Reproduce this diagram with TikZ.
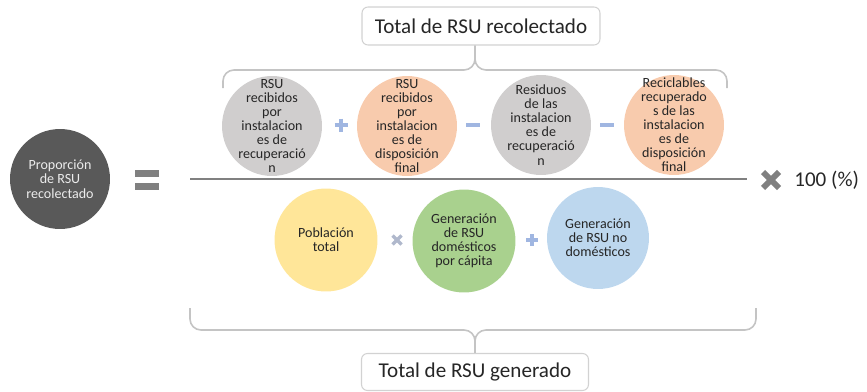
\documentclass[tikz,border=0pt]{standalone}
\usepackage{fontspec}
\setmainfont{Carlito}
\usetikzlibrary{positioning}
\definecolor{gr1}{RGB}{89, 89, 89}
\definecolor{gr2}{RGB}{208, 206, 206}
\definecolor{pe1}{RGB}{248, 203, 173}
\definecolor{am1}{RGB}{255, 230, 153}
\definecolor{ve1}{RGB}{169, 209, 142}
\definecolor{az1}{RGB}{189, 215, 238}
\definecolor{op1}{RGB}{160, 182, 225}
\definecolor{op2}{RGB}{176, 184, 204}
\definecolor{li1}{RGB}{128, 128, 128}
\definecolor{ll1}{RGB}{196, 196, 196}
\definecolor{bo1}{RGB}{210, 210, 210}
\definecolor{tx1}{RGB}{38, 38, 38}

\begin{document}
\begin{tikzpicture}[x=0.02cm, y=-0.02cm]
    \tikzstyle{bola}=[circle, minimum size=2cm, inner sep=0pt]
    \tikzstyle{txt}=[align=center, font=\fontsize{8}{8}\selectfont, text=tx1, inner sep=0pt]
    \tikzstyle{caja}=[rectangle, rounded corners=0.12cm, draw=bo1, line width=0.6pt,
    fill=white, font=\fontsize{12}{14}\selectfont, text=tx1]
    \tikzstyle{llave}=[line width=0.9pt, color=ll1, rounded corners=0.22cm]
    \tikzstyle{signo}=[line width=2.2pt, color=op1]

    \useasboundingbox (0, 0) rectangle (867, 392);

    % Left circle
    \node [bola, fill=gr1] (prop) at (60, 179) {};
    \node [txt, text=white!85!gray, font=\fontsize{8}{8.3}\selectfont] (prop-t) at (prop) {Proporción\\de RSU\\recolectado};

    % Equals sign
    \fill [li1] (135, 170) rectangle (159, 177);
    \fill [li1] (135, 183) rectangle (159, 190);

    % Fraction line
    \draw [line width=1.7pt, color=li1] (190, 179) -- (747, 179);

    % Top box
    \node [caja, minimum width=4.76cm, minimum height=0.76cm] (totrec) at (481, 26) {Total de RSU recolectado};

    % Top brace
    \coordinate (tl) at (223, 88);
    \coordinate (tr) at (727, 88);
    \coordinate (tc) at (475, 70);
    \draw [llave] (tl) |- (tc) -- (tc |- totrec.south);
    \draw [llave] (tr) |- (tc) -- (tc |- totrec.south);

    % Numerator circles
    \node [bola, fill=gr2] (recup) at (272, 126) {};
    \node [txt] (recup-t) at (recup) {RSU\\recibidos\\por\\instalacion\\es de\\recuperació\\n};
    \node [bola, fill=pe1] (dispo) at (407, 126) {};
    \node [txt] (dispo-t) at (dispo) {RSU\\recibidos\\por\\instalacion\\es de\\disposición\\final};
    \node [bola, fill=gr2] (resrec) at (541, 125) {};
    \node [txt] (resrec-t) at (resrec) {Residuos\\de las\\instalacion\\es de\\recuperació\\n};
    \node [bola, fill=pe1] (recdis) at (674, 125) {};
    \node [txt] (recdis-t) at (recdis) {Reciclables\\recuperado\\s de las\\instalacion\\es de\\disposición\\final};

    % Numerator signs
    \draw [signo] (334.5, 125) -- (347.5, 125);
    \draw [signo] (341, 118.5) -- (341, 131.5);
    \draw [signo] (466, 125) -- (480, 125);
    \draw [signo] (600, 125) -- (614, 125);

    % Denominator circles
    \node [bola, fill=am1, minimum size=2.06cm] (pobl) at (326, 240) {};
    \node [txt] (pobl-t) at (pobl) {Población\\total};
    \node [bola, fill=ve1, minimum size=2.06cm] (gendom) at (464, 241) {};
    \node [txt] (gendom-t) at (gendom) {Generación\\de RSU\\domésticos\\por cápita};
    \node [bola, fill=az1, minimum size=2.04cm] (gennod) at (598, 238) {};
    \node [txt] (gennod-t) at (gennod) {Generación\\de RSU no\\domésticos};

    % Denominator signs
    \draw [signo, color=op2, line width=2pt] (392.5, 235.5) -- (401.5, 244.5);
    \draw [signo, color=op2, line width=2pt] (392.5, 244.5) -- (401.5, 235.5);
    \draw [signo, line width=2pt] (526, 240) -- (538, 240);
    \draw [signo, line width=2pt] (532, 234) -- (532, 246);

    % Bottom brace
    \coordinate (bl) at (190, 308);
    \coordinate (br) at (756, 308);
    \coordinate (bc) at (475, 330);
    \node [caja, minimum width=4.54cm, minimum height=0.74cm] (totgen) at (475, 372) {Total de RSU generado};
    \draw [llave] (bl) |- (bc) -- (bc |- totgen.north);
    \draw [llave] (br) |- (bc) -- (bc |- totgen.north);

    % Times 100
    \draw [line width=3.4pt, color=li1] (763, 172) -- (779, 188);
    \draw [line width=3.4pt, color=li1] (763, 188) -- (779, 172);
    \node [anchor=west, inner sep=0pt, font=\fontsize{12}{14}\selectfont, text=tx1] (pct) at (794, 180) {100 (\%)};
\end{tikzpicture}
\end{document}
